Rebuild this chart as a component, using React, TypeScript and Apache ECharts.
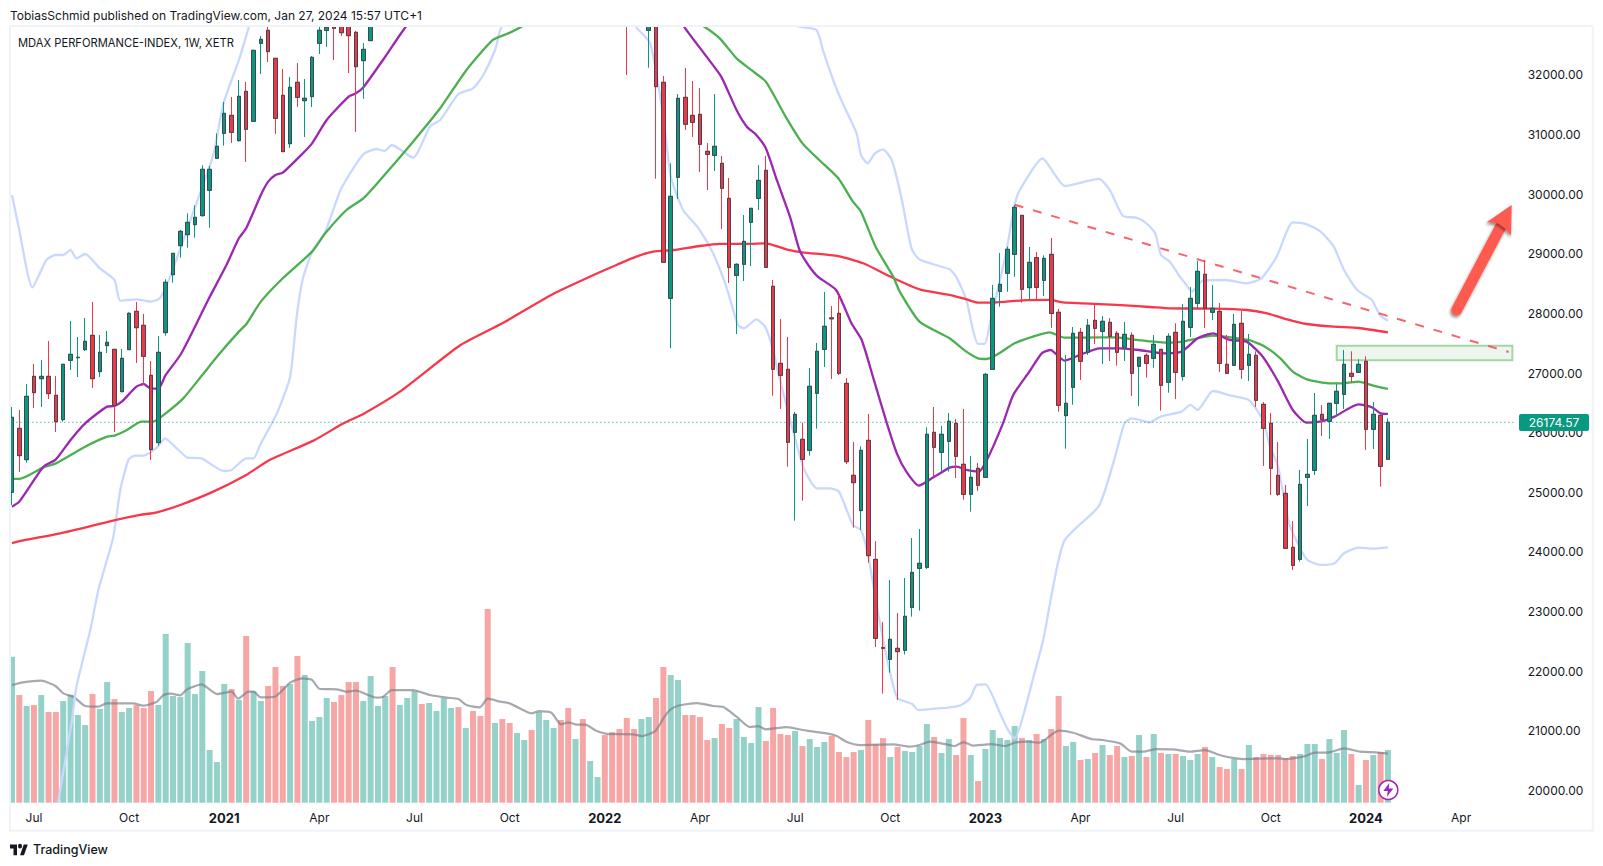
import React, { useEffect, useRef } from "react";
import * as echarts from "echarts";

// [open, close, low, high] per week, first week = 15 Jun 2020
const candleRows: number[][] = [
[25000,26258,24788,26431],[26073,25615,25341,26381],[25548,26610,25498,26817],[26945,26671,26414,27152],[26906,26945,26431,27219],
[26945,26655,26565,27538],[26627,26185,26012,26951],[26219,27147,26185,27147],[27214,27314,27052,27873],[27258,27264,26934,27605],
[27393,27532,27370,27924],[27633,26906,26750,28192],[27024,27348,26934,27639],[27460,27516,27337,27706],[27398,26454,26012,27398],
[26688,27247,26688,27404],[27393,28002,27393,28019],[28035,27761,27169,28192],[27801,27281,26800,27991],[26962,25716,25542,27203],
[25833,27348,25783,27622],[27678,28522,27627,28572],[28650,29008,28516,29008],[29137,29377,28935,29400],[29321,29528,29103,29679],
[29489,29612,29271,29813],[29640,30417,29623,30484],[30065,30417,29438,30473],[30601,30803,30601,31020],[31020,31356,30814,31546],
[31322,31037,30859,31630],[30898,31641,30881,31915],[31725,31088,30540,31882],[31222,32412,31222,32418],[32530,32597,32016,32653],
[32748,32390,32217,32830],[32278,31272,31010,32278],[31658,30713,30713,32099],[30847,31792,30775,31965],[31876,31624,31462,32200],
[31568,31608,30959,31932],[31636,32295,31462,32317],[32530,32748,32351,32830],[32748,32798,32468,32900],[32830,32782,32250,32950],
[32850,32708,32652,32950],[32870,32658,32032,32980],[32714,32138,31043,32737],[32239,32429,31597,32535],[32575,32900,32575,33000],
[32900,33100,32850,33150],[33100,33300,33050,33350],[33300,33050,33000,33350],[33050,33400,33000,33450],[33400,33500,33350,33550],
[33500,33700,33450,33750],[33700,33500,33450,33750],[33500,33700,33450,33750],[33700,33850,33650,33900],[33850,34000,33800,34050],
[34000,34200,33950,34250],[34200,34000,33950,34250],[34000,34200,33950,34250],[34200,34000,33950,34250],[34000,33800,33750,34050],
[33800,33300,33250,33850],[33300,33600,33250,33650],[33600,33400,33350,33650],[33400,33200,33150,33450],[33200,33500,33150,33550],
[33500,33900,33450,33950],[33900,33700,33650,33950],[33700,34100,33650,34150],[34100,34500,34050,34550],[34500,35000,34450,35050],
[35000,34700,34650,35050],[34700,33900,33850,34750],[33900,34300,33850,34350],[34300,33900,33850,34350],[33900,34300,33850,34350],
[34300,34700,34250,34750],[34700,34400,34350,34750],[34400,34100,34050,34450],[34100,33600,33550,34150],[33600,33000,31998,33650],
[33000,32950,32880,33050],[32950,33200,32900,33250],[32748,33150,32120,33300],[33100,31803,30260,33200],[31876,28857,28857,31982],
[28253,29964,27415,30517],[30283,31607,29919,31680],[31624,31172,31076,32116],[31322,31205,30959,31898],[31339,30836,30372,31781],
[30719,30669,30070,30859],[30652,30803,30389,31680],[30517,30098,29416,30640],[29930,28773,28511,30271],[28639,28824,27655,28841],
[28824,29209,28544,29651],[29528,29763,28796,29763],[29930,30232,29735,30489],[30400,28773,28773,30640],[28455,27063,26621,28561],
[27163,26962,26398,27907],[27063,25839,25431,27605],[26006,26308,24525,26347],[25889,25553,24860,26168],[25704,26778,25615,27085],
[26660,27365,26068,27505],[27398,27784,27102,28360],[27925,27910,26901,28125],[28002,26996,26968,28309],[26828,25514,25475,26917],
[25285,25162,24408,25844],[24693,25704,24368,25772],[25872,23938,23821,26314],[23876,22552,22406,24184],[22395,22385,21624,22826],
[22199,22535,21976,23530],[22384,22328,21518,22976],[22351,22921,22279,23563],[23071,23658,22915,24233],[23725,23809,23016,24384],
[23742,25973,23714,26091],[26006,25755,25263,26431],[25671,25973,25341,26113],[25855,26191,25347,26331],[26157,25604,25240,26230],
[25470,24967,24877,26398],[24967,25252,24676,25610],[25403,25118,25023,25492],[25252,26979,25252,27000],[27063,28253,27063,28477],
[28371,28488,28114,29014],[28673,29075,28365,29120],[28991,29780,28617,29819],[29645,28404,28181,29645],[28432,28857,28242,29114],
[28935,28438,28237,29031],[28555,28924,28293,28975],[28991,27999,27756,29265],[28019,26459,26353,28075],[26286,26493,25732,27303],
[26761,27666,26470,27773],[27683,27197,26884,27756],[27348,27801,27303,27907],[27884,27750,27488,28159],[27700,27868,27152,27957],
[27851,27616,27202,27923],[27666,27348,27124,27706],[27432,27650,27202,27857],[27633,26996,26616,27683],[27113,27264,26448,27264],
[27298,27163,26923,27331],[27247,27482,27091,27639],[27398,26795,26370,27398],[26845,27616,26671,27666],[27683,27012,26565,27834],
[26945,27868,26873,28159],[27767,28253,27605,28444],[28170,28706,28080,28880],[28656,28086,27756,28897],[28019,28086,27890,28477],
[28035,27163,27018,28175],[27147,26996,26996,27639],[27130,27817,27130,27991],[27834,27063,26901,28041],[27130,27314,26867,27655],
[27298,26543,26431,27365],[26476,26073,25442,26515],[26157,25403,24955,26331],[25285,24967,24939,25844],[24983,24061,24061,25123],
[24078,23776,23698,24519],[23876,25134,23837,25375],[25252,25302,24771,25895],[25369,26291,25291,26666],[26308,26224,25945,26465],
[26191,26493,25895,26493],[26493,26694,26269,26817],[26644,27147,26398,27387],[26996,26945,26845,27365],[27012,27147,27012,27231],
[27197,26057,25710,27281],[26057,26308,25727,26515],[26291,25436,25095,26291],[25554,26174.57,25554,26241],
];

const volumes: number[] = [
43.8,32.3,29.0,29.3,32.3,27.2,27.2,30.5,32.3,26.3,23.3,32.6,28.1,36.2,31.1,27.2,28.4,29.3,28.4,33.5,29.3,50.6,32.0,31.7,47.9,32.6,39.5,15.8,12.2,35.6,
34.1,30.8,50.0,33.5,30.5,35.0,40.7,35.0,35.6,44.0,38.3,24.5,25.7,31.4,30.2,32.3,36.2,36.2,30.5,38.0,29.0,32.0,40.7,29.3,31.4,33.5,29.6,29.9,27.5,31.4,
28.4,28.7,22.4,27.5,26.0,58.1,23.9,25.1,23.9,20.9,18.8,21.8,27.2,24.8,22.4,24.8,28.4,19.1,25.1,12.5,7.7,20.3,21.2,22.1,25.4,22.1,25.1,25.7,31.4,40.7,
38.3,36.8,26.3,26.3,25.7,18.8,19.4,23.6,22.4,25.1,19.7,17.9,28.7,18.5,28.4,20.6,20.3,21.5,17.0,19.1,16.7,18.2,20.0,15.2,13.7,15.2,15.8,24.8,17.6,19.4,
13.7,16.7,15.5,15.2,17.0,23.6,19.7,14.9,19.1,14.3,25.4,14.3,6.5,16.1,21.8,19.4,18.8,23.0,19.4,18.8,20.6,19.1,22.1,32.0,17.0,18.2,12.8,13.1,14.9,17.3,
14.3,17.0,13.7,14.0,20.3,13.7,20.6,14.9,14.6,14.6,14.0,12.8,14.6,16.7,13.7,10.7,10.1,13.1,10.1,17.3,13.7,14.6,14.3,14.3,13.4,14.0,14.6,17.6,17.6,13.1,
19.1,14.9,21.8,14.6,5.3,12.8,14.3,15.2,15.8,
];

// Moving averages and Bollinger bands: [week index, value]
const ma20Points: number[][] = [[0,24760],[1,24844],[4.3,25430],[6,25553],[8,25878],[10,26157],[13,26437],[14,26448],[15,26520],[17,26772],[18,26817],[19,26739],[20,26739],[21,26968],[23,27303],[25,27778],[26.8,28226],[29.3,28812],[31,29260],[32,29427],[34,29986],[35,30210],[36,30322],[37,30361],[39.6,30668],[41,30853],[43,31244],[46,31635],[47,31691],[48,31791],[51,32306],[53,32670],[55,33000],[60,33700],[65,34000],[70,34000],[75,34300],[80,34500],[85,34200],[89,33400],[91.9,32798],[94.9,32306],[96.9,31971],[99,31412],[100.4,31132],[101.7,30993],[103,30769],[104.5,30238],[106.3,29623],[107.6,29064],[108.8,28812],[110.1,28617],[112.6,28393],[114.7,27834],[116.1,27555],[117.7,26912],[119.5,26174],[120.9,25654],[122.2,25347],[123.9,25112],[125.9,25252],[128.2,25419],[129.1,25430],[130.4,25375],[132.1,25347],[133.2,25542],[135.4,26157],[136.8,26632],[139,27024],[140.7,27331],[141.9,27387],[143.8,27208],[145.9,27303],[148.6,27415],[151.4,27415],[154,27387],[157.3,27331],[159.8,27359],[162,27583],[164.1,27667],[166.4,27555],[168.7,27527],[170.9,27275],[173,26856],[175,26381],[176.9,26168],[179.1,26196],[180.7,26269],[184,26476],[185.8,26426],[187,26325],[188,26314]];
const ma50Points: number[][] = [[0,25224],[1,25224],[4.3,25419],[6,25486],[10,25766],[13,25934],[14,25950],[15.7,26045],[17.7,26185],[19.3,26185],[21,26325],[23.4,26576],[26,26968],[28.4,27331],[31,27695],[32,27818],[34,28198],[37,28590],[41,29036],[42.8,29343],[45.7,29735],[48,29931],[50.3,30238],[54.8,30881],[58.5,31440],[62.1,32083],[65.7,32586],[67.6,32686],[69.6,32809],[72,33000],[76,33400],[80,33600],[85,33500],[90,33150],[94.6,32809],[96.7,32614],[99,32278],[101,32083],[103,31887],[105.7,31300],[108,30852],[110.3,30573],[112.9,30266],[114.9,29874],[116,29707],[118,29120],[120.4,28617],[121.3,28365],[124,27862],[128.1,27583],[130.4,27359],[132,27247],[133.1,27236],[134.5,27303],[137,27499],[139.5,27611],[141.8,27683],[143.8,27594],[146.4,27594],[150.9,27600],[153.7,27555],[158.2,27510],[160,27527],[161.4,27566],[164.1,27627],[168.9,27555],[171.2,27443],[173.3,27247],[175,27024],[176.9,26895],[180.1,26828],[181.9,26828],[184,26856],[186,26789],[188,26733]];
const ma200Points: number[][] = [[0,24150],[1.8,24201],[6.6,24313],[13.8,24525],[17.5,24620],[19.8,24665],[23,24788],[27.5,25011],[32,25291],[35.2,25542],[41.2,25867],[45.3,26157],[48,26314],[53,26688],[61.2,27462],[66.8,27822],[73.8,28319],[80.3,28690],[82.6,28813],[85.3,28952],[87.6,29036],[90.4,29064],[94,29131],[96.7,29165],[100.4,29165],[103,29176],[105.8,29075],[108,29025],[112.9,28963],[116.3,28841],[120.2,28606],[124,28405],[128.1,28310],[130.4,28237],[132,28181],[133.8,28181],[135.9,28198],[138.1,28220],[141.8,28226],[143.6,28186],[146.4,28170],[150.9,28142],[155.5,28108],[158.2,28086],[164.1,28080],[168.7,28058],[171.5,28002],[173.7,27918],[176.9,27823],[180.6,27778],[184,27756],[188,27683]];
const bbUpperPoints: number[][] = [[0,29986],[0.9,29455],[2.8,28438],[4.7,28896],[5.9,28980],[7,28980],[8,29064],[8.8,28924],[10,28997],[12,28757],[14,28561],[14.8,28214],[17,28237],[18.9,28198],[20.2,28254],[21.6,28617],[25.2,29847],[27.5,30657],[28.9,31523],[31,32250],[32.3,32781],[33,33100],[40,34500],[50,36000],[60,36500],[70,37000],[80,37000],[90,36000],[100,34500],[104,33300],[107,32830],[109.9,32754],[110.8,32418],[112.2,31915],[113.5,31524],[115.4,31020],[116,30657],[116.9,30517],[117.9,30685],[119,30752],[120.2,30573],[121.5,29958],[122.9,29092],[124,28903],[128.1,28740],[129,28617],[130.4,28226],[131.3,27722],[132,27488],[132.9,27488],[133.8,27946],[134.9,28505],[135.9,29064],[137,29819],[137.7,30070],[140.8,30598],[143.9,30137],[148.5,30257],[150,30070],[151.8,29634],[153.6,29606],[155,29512],[156.2,29344],[157,28980],[158.2,28868],[159.4,28645],[160.3,28505],[161.2,28365],[162.7,28550],[165.9,28561],[168.6,28505],[170.7,28589],[172.8,28952],[175,29528],[176.9,29495],[178.8,29372],[180.6,29120],[182,28729],[183.8,28393],[185.8,28226],[186.9,27974],[188,27879]];
const bbLowerPoints: number[][] = [[6.3,19795],[8.2,21182],[8.8,21740],[10.7,22691],[11.8,23362],[13.8,24229],[14.8,25039],[15.9,25542],[16.8,25615],[17.9,25615],[19.8,25749],[20.9,25906],[22.5,25738],[23.9,25587],[25.9,25570],[28.9,25358],[30,25375],[32,25570],[33,25570],[33.9,25794],[36.2,26325],[38,26940],[38.9,27947],[39.7,28561],[41,29036],[42.8,29371],[45,30098],[48,30668],[49.8,30758],[50.9,30724],[51.9,30825],[54.8,30613],[57.1,31132],[58.5,31244],[61,31680],[63,31775],[64.4,31999],[66,32418],[66.9,32809],[70,33200],[75,33800],[80,33700],[85.3,32798],[87.2,32530],[89,31300],[90,30300],[91.7,29735],[93.8,29428],[95.8,29008],[97.6,28449],[99.2,27806],[100,27750],[101.7,27901],[102.9,27778],[104,27387],[104.7,26996],[108.1,25431],[110,25067],[111.7,25067],[113,25011],[114.9,24452],[116,24368],[117,23921],[118.6,22803],[120,21965],[121,21548],[123,21450],[123.8,21349],[126,21371],[127.9,21388],[129.7,21434],[130.9,21546],[131.8,21768],[133,21780],[135,21294],[136.1,21013],[137,20875],[138,21182],[139.7,21964],[140.9,22523],[143.7,24167],[148.5,24771],[150.6,25545],[152,26157],[153,26241],[155.5,26174],[156.9,26269],[159.8,26353],[161,26465],[162,26381],[164.1,26699],[166.6,26621],[169,26549],[170.9,26213],[171.9,25766],[173,25430],[174.5,24480],[176.9,23877],[178.9,23782],[180.7,23810],[182,23977],[184,24072],[186,24055],[188,24078]];
const volumeMaPoints: number[][] = [[0,35.3],[1.5,36.1],[4,36.6],[5.9,35.1],[7,32.8],[8.4,31.8],[10,29],[11.8,28.8],[12.9,29.8],[16.6,29.8],[17.9,29.1],[19.8,30.3],[20.7,32.3],[21.8,32.7],[23,32.2],[23.9,34],[25.9,35.5],[28,32.6],[30,33.3],[30.9,31.2],[32.3,33.3],[33,33.3],[34,31.6],[35.9,31.8],[38,36],[39.6,37.3],[41,36.8],[42,34.2],[44.4,34],[45.7,33.3],[47,33.6],[49.8,31.5],[50.7,31.8],[51.9,33.8],[54.8,33.8],[57.1,32.3],[59.4,31.5],[61,31.1],[62.1,29.3],[63.9,28.6],[65,31.2],[66.7,30.3],[68,29.8],[70.3,27.3],[71,26.8],[72,27.5],[73.7,27],[75,23.5],[76,24.1],[77.2,23.4],[78.3,23.4],[79.9,21.5],[81.5,20.6],[84.9,20.5],[86,20],[87.9,21.5],[89,25.3],[89.9,27.8],[91,29.1],[93.6,29.9],[95.8,29],[97.2,28.7],[99,25.8],[100.8,22.7],[102,23],[103,22],[105.8,22.7],[108.6,21.6],[111.3,20.8],[112.7,20],[114,18.3],[115.9,17.3],[120.4,17.5],[122.7,16.8],[124,17.3],[125.4,18.3],[127.7,17.5],[128.8,17],[130,18.2],[131.3,17.1],[133.8,17.6],[135.7,17],[137,18],[138.8,18.3],[140.4,18],[143,21.6],[145,21],[147.5,19.1],[149,18.8],[151.4,17.8],[153,15.3],[154.6,15.3],[156.3,16.1],[158.6,16],[161,15.3],[163,15.8],[165,14.3],[166.6,13.5],[168.2,13.1],[172.8,13.3],[174,13.1],[176.4,13.8],[178,15],[180,15.1],[182,16.3],[184.2,15.3],[186.4,15.1],[188,14.7]];

const trendLinePoints: number[][] = [[137,29823],[204.5,27353]];
const resistanceBox = { x0: 181, x1: 205, top: 27459, bottom: 27214 };
const lastPrice = 26174.57;
const priceTicks = [32000,31000,30000,29000,28000,27000,26000,25000,24000,23000,22000,21000,20000];
const timeTickIndexes = [3,16,29,42,55,68,81,94,107,120,133,146,159,172,185,198];
const timeTickLabels = ["Jul","Oct","2021","Apr","Jul","Oct","2022","Apr","Jul","Oct","2023","Apr","Jul","Oct","2024","Apr"];
const title = "MDAX PERFORMANCE-INDEX, 1W, XETR";
const header = "TobiasSchmid published on TradingView.com, Jan 27, 2024 15:57 UTC+1";

const FONT = "Inter, Roboto, sans-serif";
const UP = "#089981";
const DOWN = "#f23645";
const SLOTS = 206;
const categories = Array.from({ length: SLOTS }, (_, i) => {
  const k = timeTickIndexes.indexOf(i);
  return k >= 0 ? timeTickLabels[k] : "w" + i;
});

echarts.graphic.registerShape("tvlogo", echarts.graphic.extendPath("M14 22H7V11H0V4h14v18zM28 22h-8l7.5-18h8L28 22zM24 7a4 4 0 1 1-8 0a4 4 0 1 1 8 0z", {}) as any);
echarts.graphic.registerShape("bolt", echarts.graphic.extendPath("M11 3L5 11L9.5 11L8.5 17L15 8.5L10.5 8.5Z", {}) as any);

function lineSeries(name: string, data: number[][], color: string, width = 2.3, extra: any = {}) {
  return {
    name, type: "line", xAxisIndex: 2, yAxisIndex: 0, data, showSymbol: false, symbol: "none", smooth: 0.2, z: 3,
    lineStyle: { color, width }, silent: true, ...extra,
  };
}

export default function App() {
  const ref = useRef<HTMLDivElement>(null);
  useEffect(() => {
    document.body.style.margin = "0";
    document.body.style.background = "#fff";
    const chart = echarts.init(ref.current!, null, { renderer: "svg" });
    const grid0 = { left: 8.34, top: 26.5, width: 1507.66, height: 776.2 };
    const grid1 = { left: 8.34, top: 502.7, width: 1507.66, height: 300 };
    chart.setOption({
      animation: false,
      backgroundColor: "#ffffff",
      textStyle: { fontFamily: FONT },
      grid: [grid0, grid1],
      xAxis: [
        {
          type: "category", gridIndex: 0, data: categories, boundaryGap: true,
          axisLine: { show: false }, axisTick: { show: false }, splitLine: { show: false },
          axisLabel: {
            interval: (i: number) => timeTickIndexes.includes(i), margin: 9, color: "#131722", fontSize: 12, fontFamily: FONT,
            hideOverlap: false,
            formatter: (v: string) => (/^\d{4}$/.test(v) ? `{y|${v}}` : v),
            rich: { y: { fontWeight: 700, fontSize: 13, color: "#131722", fontFamily: FONT } },
          },
        },
        { type: "category", gridIndex: 1, data: categories, show: false },
        { type: "value", gridIndex: 0, min: -0.5, max: SLOTS - 0.5, show: false },
        { type: "value", gridIndex: 1, min: -0.5, max: SLOTS - 0.5, show: false },
      ],
      yAxis: [
        {
          type: "value", gridIndex: 0, position: "right", min: 19795, max: 32812, scale: true,
          axisLine: { show: false }, axisTick: { show: false }, splitLine: { show: false },
          axisLabel: {
            customValues: priceTicks, margin: 11.7, color: "#131722", fontSize: 12, fontFamily: FONT,
            padding: [0, 0, 2, 0],
            formatter: (v: number) => v.toFixed(2),
          },
        },
        { type: "value", gridIndex: 1, min: 0, max: 90, show: false },
      ],
      series: [
        {
          name: "Volume", type: "bar", xAxisIndex: 1, yAxisIndex: 1, barWidth: 6, z: 1, silent: true,
          data: volumes.map((v, i) => ({
            value: v,
            itemStyle: { color: candleRows[i][1] >= candleRows[i][0] ? "#94d1c9" : "#f7a6a6" },
          })),
        },
        {
          name: "Volume MA", type: "line", xAxisIndex: 3, yAxisIndex: 1, data: volumeMaPoints, symbol: "none", smooth: 0.2, z: 2, silent: true,
          lineStyle: { color: "rgba(120,123,134,0.65)", width: 2.2 },
        },
        lineSeries("BB upper", bbUpperPoints, "#c9d8fe"),
        lineSeries("BB lower", bbLowerPoints, "#c9d8fe"),
        lineSeries("MA 200", ma200Points, "#f7374a"),
        lineSeries("MA 50", ma50Points, "#4caf50"),
        lineSeries("MA 20", ma20Points, "#9c27b0"),
        lineSeries("Last price", [[-0.5, lastPrice], [SLOTS - 0.5, lastPrice]], UP, 1, {
          smooth: false, lineStyle: { color: UP, width: 1, type: [1, 3] },
        }),
        lineSeries("Trend", trendLinePoints, "rgba(247,70,85,0.85)", 2, {
          smooth: false,
          lineStyle: { color: "rgba(247,70,85,0.85)", width: 2, type: [9, 10] },
          markArea: {
            silent: true,
            itemStyle: { color: "#eef5ee", borderColor: "#a3d6a5", borderWidth: 2 },
            data: [[
              { xAxis: resistanceBox.x0, yAxis: resistanceBox.top },
              { xAxis: resistanceBox.x1, yAxis: resistanceBox.bottom },
            ]],
          },
        }),
        {
          name: "Wicks", type: "candlestick", xAxisIndex: 0, yAxisIndex: 0, barWidth: 4, z: 4, silent: true,
          data: candleRows,
          itemStyle: { color: UP, color0: DOWN, borderColor: UP, borderColor0: DOWN, borderWidth: 1 },
        },
        {
          name: "Bodies", type: "candlestick", xAxisIndex: 0, yAxisIndex: 0, barWidth: 4, z: 5, silent: true,
          data: candleRows.map((r) => [r[0], r[1], Math.min(r[0], r[1]), Math.max(r[0], r[1])]),
          itemStyle: { color: UP, color0: DOWN, borderColor: "#434651", borderColor0: "#434651", borderWidth: 1 },
        },
      ],
      graphic: [
        { type: "rect", z: 50, silent: true, shape: { x: 0, y: 0, width: 1603, height: 26 }, style: { fill: "#ffffff" } },
        { type: "rect", z: 50, silent: true, shape: { x: 0, y: 0, width: 10, height: 806 }, style: { fill: "#ffffff" } },
        { type: "rect", z: 51, silent: true, shape: { x: 10, y: 26, width: 1582.7, height: 804.7 }, style: { fill: "none", stroke: "#f0f3fa", lineWidth: 2 } },
        { type: "text", z: 52, x: 10, y: 15, style: { text: header, font: `12px ${FONT}`, fill: "#131722", verticalAlign: "middle" } },
        { type: "text", z: 52, x: 18, y: 43, style: { text: title, font: `11.2px ${FONT}`, fill: "#131722", verticalAlign: "middle" } },
        { type: "rect", z: 52, shape: { x: 1519, y: 414, width: 70, height: 17, r: 2 }, style: { fill: UP } },
        { type: "text", z: 53, x: 1554, y: 422.5, style: { text: lastPrice.toFixed(2), font: `12px ${FONT}`, fill: "#ffffff", align: "center", verticalAlign: "middle" } },
        { type: "polyline", z: 52, shape: { points: [[1456.7, 310], [1501, 226]] }, style: { stroke: "#ff5a4f", lineWidth: 11, lineCap: "round", fill: "none", shadowBlur: 3, shadowColor: "rgba(0,0,0,0.45)", shadowOffsetX: -1, shadowOffsetY: 2 } },
        { type: "polygon", z: 52, shape: { points: [[1511.7, 205], [1486.7, 222.3], [1498, 223.3], [1505, 228.3], [1511, 235.7]] }, style: { fill: "#ff5a4f", shadowBlur: 3, shadowColor: "rgba(0,0,0,0.45)", shadowOffsetX: -1, shadowOffsetY: 2 } },
        { type: "circle", z: 52, shape: { cx: 1388.3, cy: 790, r: 9.5 }, style: { fill: "#ffffff", stroke: "#9c27b0", lineWidth: 1.5 } },
        { type: "bolt", z: 53, x: 1378.3, y: 780, style: { fill: "#9c27b0" } },
        { type: "tvlogo", z: 52, x: 10, y: 842, scaleX: 0.5, scaleY: 0.6, style: { fill: "#131722" } },
        { type: "text", z: 52, x: 33, y: 849.5, style: { text: "TradingView", font: `500 12.5px ${FONT}`, fill: "#131722", verticalAlign: "middle" } },
      ],
    });
    return () => chart.dispose();
  }, []);
  return <div ref={ref} style={{ position: "fixed", left: 0, top: 0, width: 1603, height: 866, background: "#fff" }} />;
}
